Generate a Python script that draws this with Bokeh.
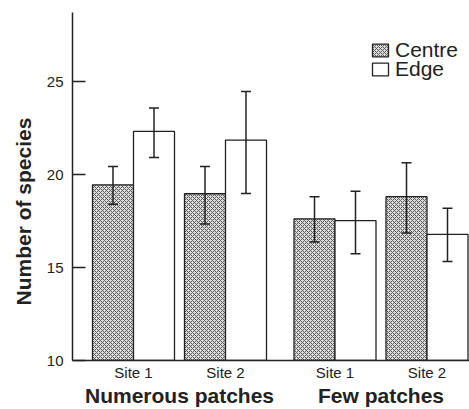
from bokeh.plotting import figure
from bokeh.models import (ColumnDataSource, Range1d, FixedTicker, LinearAxis,
                          Whisker, TeeHead, Legend, LegendItem, Title)
from bokeh.embed import file_html
from bokeh.resources import INLINE

# ---- data ----
groups = ["Numerous patches", "Few patches"]
sites = ["Site 1", "Site 2"]
series = ["Centre", "Edge"]
centre_mean = [19.45, 18.97, 17.62, 18.81]
centre_low = [18.40, 17.34, 16.37, 16.86]
centre_high = [20.44, 20.44, 18.81, 20.64]
edge_mean = [22.32, 21.86, 17.52, 16.79]
edge_low = [20.92, 18.99, 15.74, 15.32]
edge_high = [23.58, 24.47, 19.10, 18.19]
y_ticks = [10, 15, 20, 25]
y_title = "Number of species"

# ---- layout (screen-like units) ----
BAR_W = 41
FIRST = 61
PAIR_STEP = 92
GROUP_GAP = 17.5

pair_x = []
pair_lbl = []
for gi, g in enumerate(groups):
    for si, s in enumerate(sites):
        pair_x.append(FIRST + (2 * gi + si) * PAIR_STEP + gi * GROUP_GAP)
        pair_lbl.append(s)
group_x = [(pair_x[2 * i] + pair_x[2 * i + 1]) / 2 for i in range(len(groups))]

centre_x = [x - BAR_W / 2 for x in pair_x]
edge_x = [x + BAR_W / 2 for x in pair_x]

src_c = ColumnDataSource(dict(x=centre_x, top=centre_mean, lo=centre_low, hi=centre_high))
src_e = ColumnDataSource(dict(x=edge_x, top=edge_mean, lo=edge_low, hi=edge_high))

DARK = "#222222"
FONT = "Liberation Sans"

p = figure(width=469, height=409, output_backend="svg", toolbar_location=None,
           x_range=Range1d(0, 397), y_range=Range1d(10, 28.72),
           min_border_left=72, min_border_right=0, min_border_top=12,
           min_border_bottom=0, tools="")
p.xaxis.visible = False
p.xgrid.visible = False
p.ygrid.visible = False
p.outline_line_color = None
p.background_fill_color = "white"
p.border_fill_color = "white"

rc = p.vbar(x="x", top="top", bottom=10, width=BAR_W, source=src_c,
            fill_color="#dcdcdc", line_color=DARK, line_width=1.3,
            hatch_pattern="diagonal_cross", hatch_color="#5a5a5a",
            hatch_scale=4, hatch_weight=1)
re = p.vbar(x="x", top="top", bottom=10, width=BAR_W, source=src_e,
            fill_color="white", line_color=DARK, line_width=1.3)

for src in (src_c, src_e):
    w = Whisker(base="x", upper="hi", lower="lo", source=src, level="annotation",
                line_color=DARK, line_width=1.5,
                upper_head=TeeHead(size=10, line_color=DARK, line_width=1.5),
                lower_head=TeeHead(size=10, line_color=DARK, line_width=1.5))
    p.add_layout(w)

# y axis
ya = p.yaxis[0]
ya.ticker = FixedTicker(ticks=y_ticks)
ya.minor_tick_line_color = None
ya.major_tick_in = 13
ya.major_tick_out = 0
ya.major_tick_line_color = DARK
ya.major_tick_line_width = 1.5
ya.axis_line_color = DARK
ya.axis_line_width = 1.5
ya.major_label_text_font = FONT
ya.major_label_text_font_size = "15px"
ya.major_label_text_color = DARK
ya.major_label_standoff = 9

# y title, set a little below the frame centre as in the original
p.add_layout(Title(text=y_title, align="left", offset=55, standoff=18,
                   text_font=FONT, text_font_style="bold",
                   text_font_size="21px", text_color=DARK), "left")

# x axis: sites
xa = LinearAxis(ticker=FixedTicker(ticks=pair_x),
                major_label_overrides={x: l for x, l in zip(pair_x, pair_lbl)})
xa.major_tick_line_color = None
xa.major_tick_in = 0
xa.major_tick_out = 0
xa.minor_tick_line_color = None
xa.minor_tick_in = 0
xa.minor_tick_out = 0
xa.axis_line_color = DARK
xa.axis_line_width = 1.5
xa.major_label_text_font = FONT
xa.major_label_text_font_size = "15px"
xa.major_label_text_color = DARK
xa.major_label_standoff = 3
p.add_layout(xa, "below")

# x axis: groups
xg = LinearAxis(ticker=FixedTicker(ticks=group_x),
                major_label_overrides={x: l for x, l in zip(group_x, groups)})
xg.major_tick_line_color = None
xg.major_tick_in = 0
xg.major_tick_out = 0
xg.minor_tick_line_color = None
xg.minor_tick_in = 0
xg.minor_tick_out = 0
xg.axis_line_color = None
xg.major_label_text_font = FONT
xg.major_label_text_font_size = "21px"
xg.major_label_text_font_style = "bold"
xg.major_label_text_color = DARK
xg.major_label_standoff = 0
p.add_layout(xg, "below")

# legend: one entry per box so the rows sit as close as in the original
for name, rend, vy in zip(series, (rc, re), (298, 279)):
    lg = Legend(items=[LegendItem(label=name, renderers=[rend])],
                location=(298, vy), padding=0, margin=0, spacing=0,
                glyph_width=20, glyph_height=16, label_standoff=5,
                label_text_font=FONT, label_text_font_size="21px",
                label_text_color=DARK, border_line_color=None,
                background_fill_alpha=0)
    p.add_layout(lg)

open("out.html", "w").write(file_html(p, INLINE))
